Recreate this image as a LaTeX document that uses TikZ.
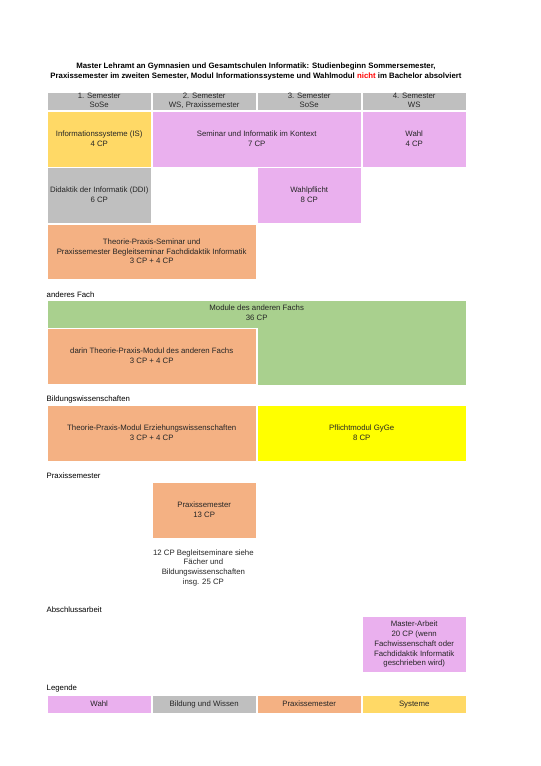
\documentclass[tikz,border=0pt]{standalone}
\usepackage{fontspec}
\setmainfont{Liberation Sans}
\usetikzlibrary{positioning}
\definecolor{wahlpink}{HTML}{EAB0EE}
\definecolor{bildgrau}{HTML}{BFBFBF}
\definecolor{praxorange}{HTML}{F4B183}
\definecolor{sysgelb}{HTML}{FFD966}
\definecolor{fachgruen}{HTML}{A9D08E}
\definecolor{pflichtgelb}{HTML}{FFFF00}
\newcommand{\cellfont}{\fontsize{7.8bp}{9.7bp}\selectfont}
\tikzset{cell/.style={draw=white,line width=1.6bp,anchor=north west,inner sep=0pt,align=center,
    minimum width=105bp,minimum height=56.4bp,font=\cellfont,text=black!85,
    execute at begin node=\vphantom{\"Ag},execute at end node=\vphantom{g}},
  wide/.style={minimum width=210bp},
  head/.style={cell,fill=bildgrau,minimum height=18.4bp},
  sect/.style={anchor=west,inner sep=0pt,font=\cellfont}}

\begin{document}
\begin{tikzpicture}[x=1bp,y=-1bp]
\useasboundingbox[fill=white] (0,0) rectangle (541,766);
% Titel
\node[align=center,font=\fontsize{7.8bp}{10bp}\selectfont\bfseries] (titel) at (256,71)
  {Master Lehramt an Gymnasien und Gesamtschulen Informatik: Studienbeginn Sommersemester,\\
   Praxissemester im zweiten Semester, Modul Informationssysteme und Wahlmodul \textcolor{red}{nicht} im Bachelor absolviert};
% Kopfzeile
\node[head] (sem1) at (45.9,91.2) {1. Semester\\SoSe};
\node[head] (sem2) at (150.9,91.2) {2. Semester\\WS, Praxissemester};
\node[head] (sem3) at (255.9,91.2) {3. Semester\\SoSe};
\node[head] (sem4) at (360.9,91.2) {4. Semester\\WS};
% Informatik
\node[cell,fill=sysgelb] (is) at (45.9,110.2) {Informationssysteme (IS)\\4 CP};
\node[cell,wide,fill=wahlpink] (sik) at (150.9,110.2) {Seminar und Informatik im Kontext\\7 CP};
\node[cell,fill=wahlpink] (wahl) at (360.9,110.2) {Wahl\\4 CP};
\node[cell,fill=bildgrau] (ddi) at (45.9,166.6) {Didaktik der Informatik (DDI)\\6 CP};
\node[cell,fill=wahlpink] (wpf) at (255.9,166.6) {Wahlpflicht\\8 CP};
\node[cell,wide,fill=praxorange] (tps) at (45.9,223) {Theorie-Praxis-Seminar und\\Praxissemester Begleitseminar Fachdidaktik Informatik\\3 CP + 4 CP};
% anderes Fach
\node[sect] (fachlabel) at (46.5,294.7) {anderes Fach};
\node[cell,minimum width=420bp,minimum height=85.6bp,fill=fachgruen] (fach) at (45.9,299.2) {};
\node[anchor=north,inner sep=0pt,align=center,font=\cellfont,text=black!85] (fachtext) at ([yshift=-5.5bp]fach.north) {Module des anderen Fachs\\36 CP};
\node[cell,wide,fill=praxorange] (tpm) at (45.9,327.6) {darin Theorie-Praxis-Modul des anderen Fachs\\3 CP + 4 CP};
% Bildungswissenschaften
\node[sect] (bildlabel) at (46.5,399.3) {Bildungswissenschaften};
\node[cell,wide,fill=praxorange] (ezw) at (45.9,404.4) {Theorie-Praxis-Modul Erziehungswissenschaften\\3 CP + 4 CP};
\node[cell,wide,fill=pflichtgelb] (gyge) at (255.9,404.4) {Pflichtmodul GyGe\\8 CP};
% Praxissemester
\node[sect] (praxlabel) at (46.5,476) {Praxissemester};
\node[cell,fill=praxorange] (praxis) at (150.9,481.8) {Praxissemester\\13 CP};
\node[align=center,inner sep=0pt,font=\cellfont,text=black!85] (praxnote) at (203.4,567.6)
  {12 CP Begleitseminare siehe\\F\"acher und\\Bildungswissenschaften\\insg. 25 CP};
% Abschlussarbeit
\node[sect] (abschlabel) at (46.5,609.3) {Abschlussarbeit};
\node[cell,fill=wahlpink] (master) at (360.9,615.3) {Master-Arbeit\\20 CP (wenn\\Fachwissenschaft oder\\Fachdidaktik Informatik\\geschrieben wird)};
% Legende
\node[sect] (leglabel) at (46.5,688.3) {Legende};
\node[cell,fill=wahlpink,minimum height=18.4bp] (legwahl) at (45.9,694.2) {Wahl};
\node[cell,fill=bildgrau,minimum height=18.4bp] (legbild) at (150.9,694.2) {Bildung und Wissen};
\node[cell,fill=praxorange,minimum height=18.4bp] (legprax) at (255.9,694.2) {Praxissemester};
\node[cell,fill=sysgelb,minimum height=18.4bp] (legsys) at (360.9,694.2) {Systeme};
\end{tikzpicture}
\end{document}
